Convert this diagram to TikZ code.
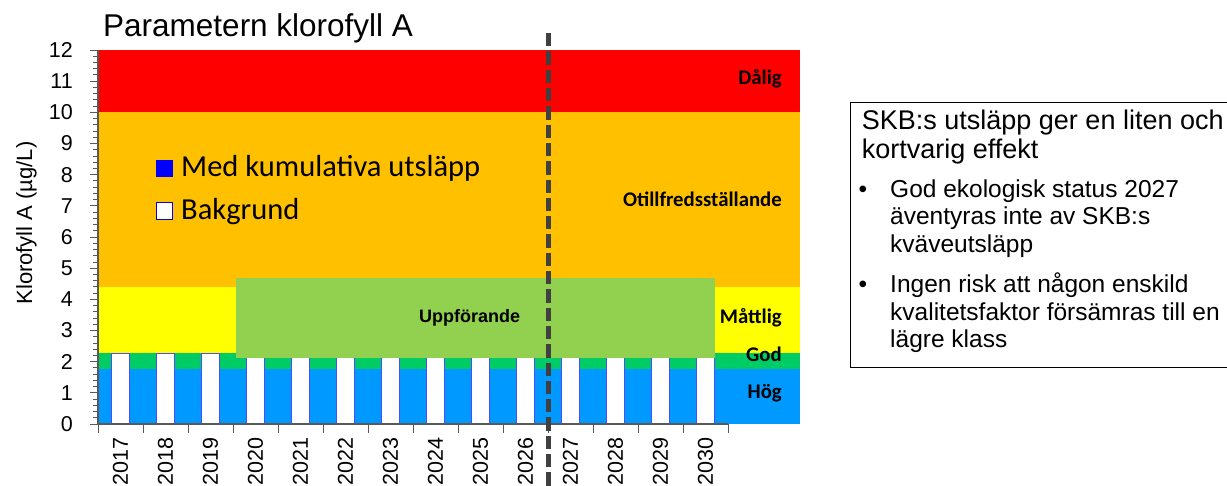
\documentclass[tikz,border=0pt]{standalone}
\usepackage{fontspec}
\setmainfont{Liberation Sans}
\newfontfamily\calibri{Carlito}
\usepackage{tikz}

\definecolor{bandred}{HTML}{FF0000}
\definecolor{bandorange}{HTML}{FFC000}
\definecolor{bandyellow}{HTML}{FFFF00}
\definecolor{bandgreen}{HTML}{00CC66}
\definecolor{bandblue}{HTML}{0099FF}
\definecolor{phasegreen}{HTML}{92D050}
\definecolor{axisgray}{HTML}{595959}
\definecolor{divgray}{HTML}{404040}
\definecolor{serieblue}{HTML}{0000FF}

\newcommand{\fsz}[2]{\fontsize{#1}{#2}\selectfont}

\begin{document}
\begin{tikzpicture}[x=1pt, y=1pt,
    bar/.style={fill=white, draw=serieblue!70, line width=0.8pt},
    classlbl/.style={anchor=base east, inner sep=0pt, font=\calibri\bfseries\fsz{20.8}{24}},
    ticklbl/.style={inner sep=0pt, font=\fsz{21.5}{24}},
    boxtext/.style={anchor=base west, inner sep=0pt}]
  \clip (0,0) rectangle (1227,486);
  \fill[white] (0,0) rectangle (1227,486);

  % diagram, one unit per year and per ug/L
  \begin{scope}[shift={(98,62)}, x=45pt, y=31.17pt]
    \fill[bandred]    (0,10)   rectangle (15.6,12);
    \fill[bandorange] (0,4.4)  rectangle (15.6,10);
    \fill[bandyellow] (0,2.27) rectangle (15.6,4.4);
    \fill[bandgreen]  (0,1.77) rectangle (15.6,2.27);
    \fill[bandblue]   (0,0)    rectangle (15.6,1.77);

    \foreach \i in {0,...,13}
      \draw[bar] (\i+0.3,0) rectangle (\i+0.7,2.28);

    \fill[phasegreen] (3.07,2.13) rectangle (13.71,4.67);
    \node[anchor=base, inner sep=0pt, font=\bfseries\fsz{18}{22}] (uppf) at (8.26,3.25) {Uppförande};

    \node[classlbl] (dalig) at (15.2,10.88) {Dålig};
    \node[classlbl] (otill) at (15.2,6.97) {Otillfredsställande};
    \node[classlbl] (mattl) at (15.2,3.21) {Måttlig};
    \node[classlbl] (god)   at (15.2,2.0)  {God};
    \node[classlbl] (hog)   at (15.2,0.82) {Hög};

    % axes
    \foreach \v in {0.2,0.4,...,11.9}
      \draw[axisgray, line width=0.8pt] (0,\v) -- ++(-5pt,0);
    \foreach \v in {0,...,12} {
      \draw[axisgray, line width=0.8pt] (0,\v) -- ++(-8pt,0);
      \node[ticklbl, anchor=east, xshift=-25pt] (v\v) at (0,\v) {\v};
    }
    \foreach \i in {0,...,14}
      \draw[axisgray, line width=1pt] (\i,0) -- ++(0,-9pt);
    \draw[axisgray, line width=1.5pt] (0,12) -- (0,0) -- (14,0);
    \foreach \yr [count=\i from 0] in {2017,...,2030}
      \node[ticklbl, rotate=90, anchor=east] (y\yr) at (\i+0.5,-0.42) {\yr};

    \draw[divgray, line width=5pt, dash pattern=on 13.3pt off 5pt] (10,12.54) -- (10,-2.2);
  \end{scope}

  \node[anchor=base west, inner sep=0pt, font=\fsz{31.5}{36}] (title) at (103,449.3) {Parametern klorofyll A};
  \node[rotate=90, anchor=base, inner sep=0pt, font=\fsz{22}{26}] (ylabel) at (32,263) {Klorofyll A (µg/L)};

  % legend
  \fill[serieblue] (156,309) rectangle (173,326);
  \draw[serieblue, fill=white, line width=1pt] (156.5,266.5) rectangle (172.5,283.5);
  \node[anchor=base west, inner sep=0pt, font=\calibri\fsz{30.5}{34}] (legmed) at (181,309.3) {Med kumulativa utsläpp};
  \node[anchor=base west, inner sep=0pt, font=\calibri\fsz{30.5}{34}] (legbak) at (181,266) {Bakgrund};

  % text box
  \draw[black, line width=0.8pt] (850,384) rectangle (1240,119);
  \foreach \t [count=\k] in {SKB:s utsläpp ger en liten och, kortvarig effekt}
    \node[boxtext, font=\fsz{27}{29}] (head\k) at (861.7,{385.7-29*\k}) {\t};
  \node[anchor=base, inner sep=0pt, font=\fsz{24.5}{28}] (dot1) at (863,288.7) {•};
  \foreach \t [count=\k] in {God ekologisk status 2027, äventyras inte av SKB:s, kväveutsläpp}
    \node[boxtext, font=\fsz{24.5}{28}] (bula\k) at (890,{316.3-27.6*\k}) {\t};
  \node[anchor=base, inner sep=0pt, font=\fsz{24.5}{28}] (dot2) at (863,193.3) {•};
  \foreach \t [count=\k] in {Ingen risk att någon enskild, kvalitetsfaktor försämras till en, lägre klass}
    \node[boxtext, font=\fsz{24.5}{28}] (bulb\k) at (890,{220.9-27.6*\k}) {\t};
\end{tikzpicture}
\end{document}
